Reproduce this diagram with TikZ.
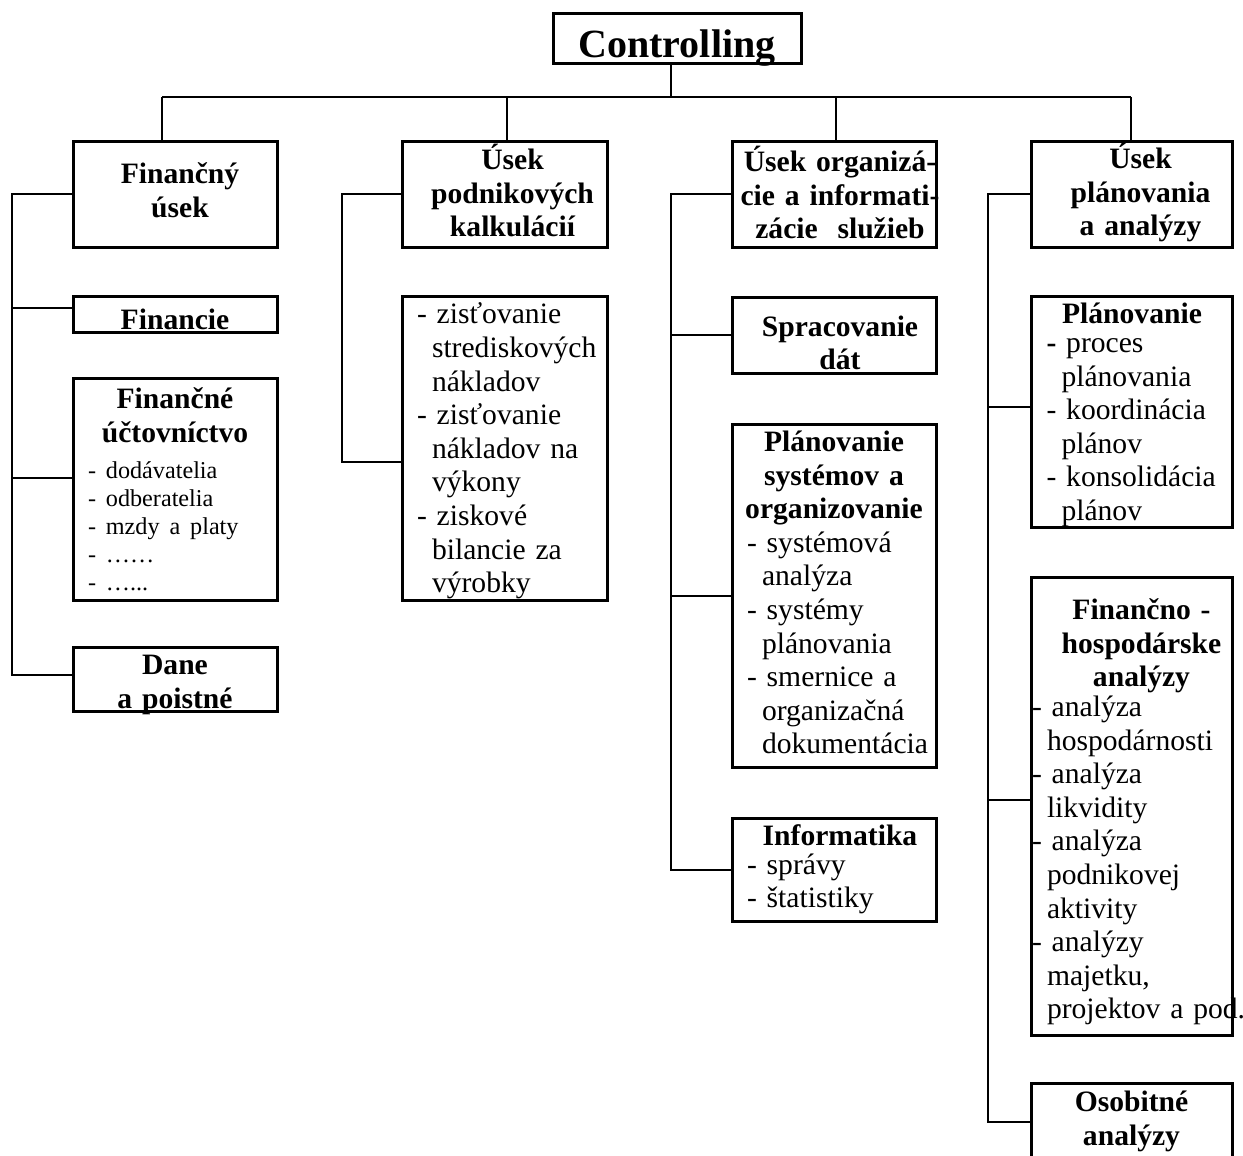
\documentclass[tikz,border=0pt]{standalone}
\usepackage{fontspec}
\setmainfont{Liberation Serif}
\usepackage{tikz}
\usetikzlibrary{shapes,arrows}
\newcommand{\bodyfont}{\fontsize{14.8}{16.8}\selectfont}
\newcommand{\smallfont}{\fontsize{12.1}{14}\selectfont}
\newcommand{\odsad}{\hspace*{7.5pt}}
\newcommand{\obsah}[2][0pt]{\vbox{\vskip#1\relax #2\vskip-#1\relax}}
\newcommand{\cl}[2][0pt]{\hbox to \linewidth{\hskip#1\hss\bfseries #2\hss}}
\newcommand{\rl}[1]{\hbox to \linewidth{#1\hss}}
\tikzstyle{block} = [rectangle, draw, line width=1.5pt, inner xsep=7.5pt, inner ysep=0pt, font=\bodyfont]
\tikzstyle{line} = [draw, line width=1pt]

\begin{document}
\begin{tikzpicture}[x=0.5pt,y=-0.5pt]
\useasboundingbox (0,0) rectangle (1243,1156);
\node [block, font=\fontsize{20}{24}\selectfont\bfseries, minimum width=124pt, minimum height=25pt, text height=19pt, text depth=0pt] (p0) at (677,39) {Controlling};

\node [block, text width=87pt, minimum height=52.5pt] (p1) at (175,194.5) {\obsah[-2pt]{\cl[5pt]{Finančný}\cl[5pt]{úsek}}};
\node [block, text width=87.5pt, minimum height=52.5pt] (p2) at (504.5,194.5) {\obsah[-2pt]{\cl[8pt]{Úsek}\cl[8pt]{podnikových}\cl[8pt]{kalkulácií}}};
\node [block, text width=87pt, minimum height=52.5pt] (p3) at (834,194.5) {\obsah[-1pt]{\cl[6pt]{Úsek organizá-}\cl[6pt]{cie a informati-}\cl[6pt]{zácie\ \ služieb}}};
\node [block, text width=85.5pt, minimum height=52.5pt] (p4) at (1131.5,194.5) {\obsah[-1pt]{\cl[9pt]{Úsek}\cl[9pt]{plánovania}\cl[9pt]{a analýzy}}};

\coordinate (c0) at (671,97);
\coordinate (b1) at (162,97);
\coordinate (b2) at (507,97);
\coordinate (b3) at (836,97);
\coordinate (b4) at (1131,97);
\path [line] (c0 |- p0.south) -- (c0);
\path [line] (b1) -- (b4);
\path [line] (b1) -- (b1 |- p1.north);
\path [line] (b2) -- (b2 |- p2.north);
\path [line] (b3) -- (b3 |- p3.north);
\path [line] (b4) -- (b4 |- p4.north);

\node [block, text width=87pt, minimum height=18pt] (p5) at (175,314) {\obsah{\vspace*{5pt}\cl{Financie}}};
\node [block, text width=87pt, minimum height=111pt] (p6) at (175,489) {\obsah{\cl{Finančné}\cl{účtovníctvo}\vspace{4pt}{\smallfont\rl{- dodávatelia}\rl{- odberatelia}\rl{- mzdy a platy}\rl{- ……}\rl{- …...}}}};
\node [block, text width=87pt, minimum height=32pt] (p7) at (175,679) {\obsah[3pt]{\cl{Dane}\cl{a poistné}}};

\node [block, text width=87.5pt, minimum height=152pt] (p8) at (504.5,448) {\obsah[1.5pt]{\rl{- zisťovanie}\rl{\odsad strediskových}\rl{\odsad nákladov}\rl{- zisťovanie}\rl{\odsad nákladov na}\rl{\odsad výkony}\rl{- ziskové}\rl{\odsad bilancie za}\rl{\odsad výrobky}}};

\node [block, text width=87pt, minimum height=38pt] (p9) at (834,335) {\obsah{\vspace*{8pt}\cl[6pt]{Spracovanie}\cl[6pt]{dát}}};
\node [block, text width=87pt, minimum height=171.5pt] (p10) at (834,595.5) {\obsah[-1.5pt]{\cl{Plánovanie}\cl{systémov a}\cl{organizovanie}\rl{- systémová}\rl{\odsad analýza}\rl{- systémy}\rl{\odsad plánovania}\rl{- smernice a}\rl{\odsad organizačná}\rl{\odsad dokumentácia}}};
\node [block, text width=87pt, minimum height=51.5pt] (p11) at (834,869.5) {\obsah{\cl[6pt]{Informatika}\vspace{-2.5pt}\rl{- správy}\rl{- štatistiky}}};

\node [block, text width=85.5pt, minimum height=115.5pt] (p12) at (1132,411.5) {\obsah[1.75pt]{\cl{Plánovanie}\vspace{-2.5pt}\rl{\textbf{-} proces}\rl{\odsad plánovania}\rl{- koordinácia}\rl{\odsad plánov}\rl{- konsolidácia}\rl{\odsad plánov}}};
\node [block, inner xsep=0.5pt, text width=99.5pt, minimum height=229pt] (p13) at (1131.5,806) {\obsah[3pt]{\cl[10pt]{Finančno -}\cl[10pt]{hospodárske}\cl[10pt]{analýzy}\vspace{-2pt}\rl{- analýza}\rl{\odsad hospodárnosti}\rl{- analýza}\rl{\odsad likvidity}\rl{- analýza}\rl{\odsad podnikovej}\rl{\odsad aktivity}\rl{- analýzy}\rl{\odsad majetku,}\rl{\odsad projektov a pod.}}};
\node [block, text width=85.5pt, minimum height=38.5pt] (p14) at (1131.5,1121.5) {\obsah{\cl{Osobitné}\cl{analýzy}}};

\coordinate (s1) at (12,0);
\coordinate (s2) at (342,0);
\coordinate (s3) at (671,0);
\coordinate (s4) at (988,0);
\coordinate (k5) at ([yshift=3pt]p5.west);
\coordinate (k6) at ([yshift=5.5pt]p6.west);
\coordinate (k7) at ([yshift=2pt]p7.west);
\coordinate (k8) at ([yshift=-7pt]p8.west);
\coordinate (k12) at ([yshift=2.5pt]p12.west);
\coordinate (k13) at ([yshift=3pt]p13.west);
\path [line] (p1.west) -- (p1.west -| s1) -- (k7 -| s1) -- (k7);
\path [line] (k5) -- (k5 -| s1);
\path [line] (k6) -- (k6 -| s1);
\path [line] (p2.west) -- (p2.west -| s2) -- (k8 -| s2) -- (k8);
\path [line] (p3.west) -- (p3.west -| s3) -- (p11.west -| s3) -- (p11.west);
\path [line] (p9.west) -- (p9.west -| s3);
\path [line] (p10.west) -- (p10.west -| s3);
\path [line] (p4.west) -- (p4.west -| s4) -- (p14.west -| s4) -- (p14.west);
\path [line] (k12) -- (k12 -| s4);
\path [line] (k13) -- (k13 -| s4);
\end{tikzpicture}
\end{document}
